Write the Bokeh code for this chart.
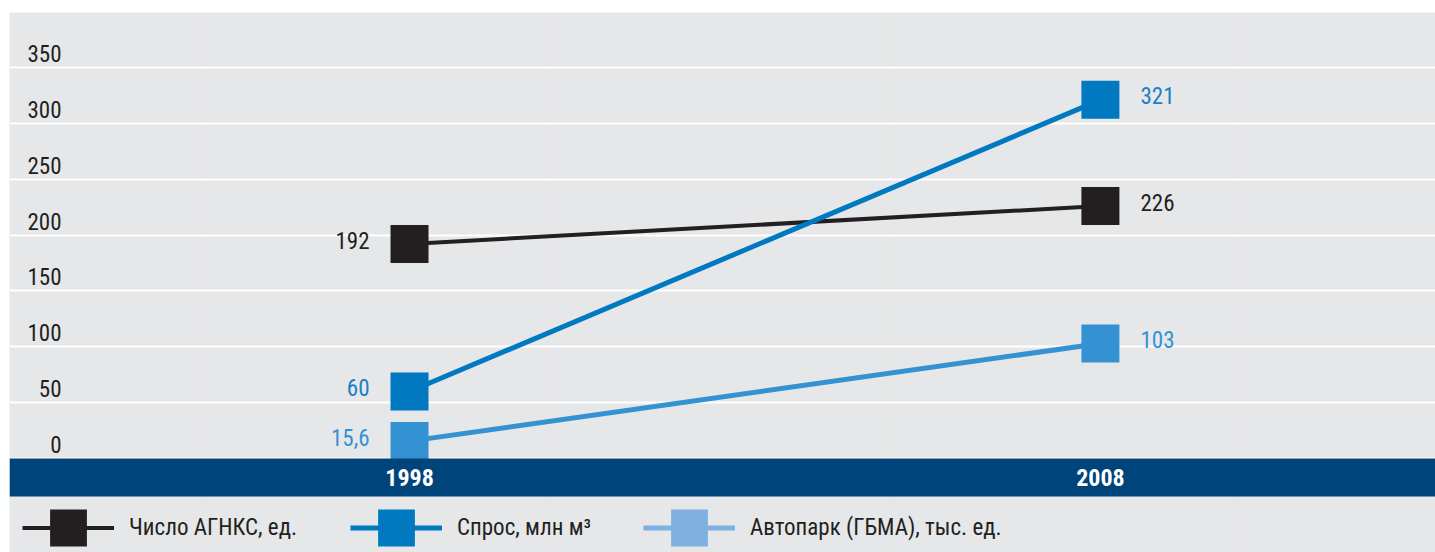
from bokeh.plotting import figure
from bokeh.models import (Range1d, BoxAnnotation, Grid, FixedTicker, Legend,
                          LegendItem, ColumnDataSource)
from bokeh.core.properties import value
from bokeh.embed import file_html
from bokeh.resources import INLINE

# ---- data ----
years = [1998, 2008]
year_labels = ["1998", "2008"]
agnks = [192, 226]
agnks_labels = ["192", "226"]
demand = [60, 321]
demand_labels = ["60", "321"]
fleet = [15.6, 103]
fleet_labels = ["15,6", "103"]
y_ticks = [0, 50, 100, 150, 200, 250, 300, 350]
y_tick_labels = ["0", "50", "100", "150", "200", "250", "300", "350"]
series_names = ["Число АГНКС, ед.", "Спрос, млн м³", "Автопарк (ГБМА), тыс. ед."]

# ---- style ----
FONT = "'Liberation Sans Narrow', 'Roboto Condensed', Roboto, sans-serif"
BG = "#e6e7e9"
NAVY = "#00447c"
INK = "#231f20"
BLUE = "#0079c1"
BLUE_TXT = "#1b80c4"
LBLUE = "#3592d2"
LEG_LBLUE = "#7eb0e0"

X0, X1 = 1992.21, 2012.85
Y0, Y1 = -84.1, 399.2
BAND_BOTTOM = -34.0
BAND_MID = -17.0

p = figure(width=1435, height=552, title=None,
           x_range=Range1d(X0, X1), y_range=Range1d(Y0, Y1),
           output_backend="svg", toolbar_location=None,
           x_axis_location=None, y_axis_location=None,
           min_border_left=9, min_border_top=12, min_border_right=0, min_border_bottom=0,
           background_fill_color=BG, border_fill_color="white", outline_line_color=None)

p.add_layout(Grid(dimension=1, ticker=FixedTicker(ticks=y_ticks),
                  grid_line_color="white", grid_line_width=2))

# y tick labels (sit above their grid lines)
p.text(x=[X0] * len(y_ticks), y=y_ticks, text=y_tick_labels,
       x_offset=52, y_offset=-14, text_align="right", text_baseline="middle",
       text_color=INK, text_font=value(FONT), text_font_size=value("23px"))

series = [
    (agnks, agnks_labels, INK, INK, 4),
    (demand, demand_labels, BLUE, BLUE_TXT, 5),
    (fleet, fleet_labels, LBLUE, LBLUE, 5),
]

renderers = []
for vals, labs, col, tcol, lw in series:
    src = ColumnDataSource(dict(x=years, y=vals, t=labs))
    ln = p.line("x", "y", source=src, line_color=col, line_width=lw)
    mk = p.scatter("x", "y", source=src, marker="square", size=38,
                   fill_color=col, line_color=None)
    renderers.append([ln, mk])
    left = ColumnDataSource(dict(x=years[:1], y=vals[:1], t=labs[:1]))
    right = ColumnDataSource(dict(x=years[1:], y=vals[1:], t=labs[1:]))
    p.text("x", "y", text="t", source=left, x_offset=-40, y_offset=-4,
           text_align="right", text_baseline="middle", text_color=tcol,
           text_font=value(FONT), text_font_size=value("23px"))
    p.text("x", "y", text="t", source=right, x_offset=40, y_offset=-4,
           text_align="left", text_baseline="middle", text_color=tcol,
           text_font=value(FONT), text_font_size=value("23px"))

# legend-only renderers for the lighter legend swatch
nan_src = ColumnDataSource(dict(x=[float("nan")], y=[float("nan")]))
leg_ln = p.line("x", "y", source=nan_src, line_color=LEG_LBLUE, line_width=5)
leg_mk = p.scatter("x", "y", source=nan_src, marker="square", size=38,
                   fill_color=LEG_LBLUE, line_color=None)
renderers[2] = [leg_ln, leg_mk]

# navy band with years
p.add_layout(BoxAnnotation(bottom=BAND_BOTTOM, top=0, fill_color=NAVY, fill_alpha=1,
                           line_color=None))
p.text(x=years, y=[BAND_MID] * len(years), text=year_labels, level="overlay",
       text_align="center", text_baseline="middle", text_color="white",
       text_font=value(FONT), text_font_style="bold", text_font_size=value("24px"))

# legend
for name, rs, vx in zip(series_names, renderers, [13, 341, 634]):
    lg = Legend(items=[LegendItem(label=name, renderers=rs)], location=(vx, -23),
                orientation="horizontal", glyph_width=92, glyph_height=95,
                label_standoff=15, padding=0, margin=0, spacing=0,
                border_line_color=None, background_fill_alpha=0,
                label_text_font=FONT, label_text_font_size="23px",
                label_text_color=INK, label_text_baseline="middle")
    p.add_layout(lg)

open("out.html", "w").write(file_html(p, INLINE))
